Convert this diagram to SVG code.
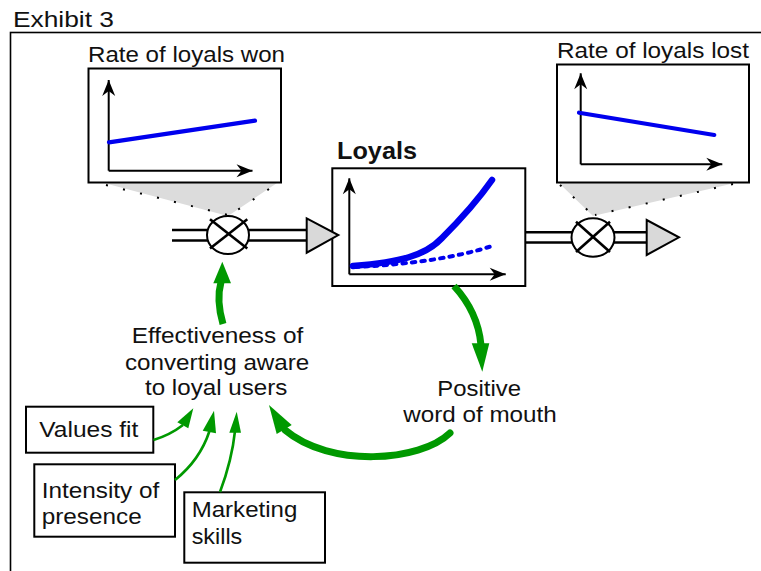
<svg xmlns="http://www.w3.org/2000/svg" width="761" height="571" viewBox="0 0 761 571">
<defs>
<marker id="ax" markerUnits="userSpaceOnUse" viewBox="-17 -7 18 14" markerWidth="18" markerHeight="14" refX="0" refY="0" orient="auto">
<path d="M0,0 L-16,-6.5 L-11,0 L-16,6.5 Z" fill="#000"/>
</marker>
</defs>
<style>
text{font-family:"Liberation Sans",Arial,sans-serif;font-size:22px;fill:#111}
.box{fill:#fff;stroke:#000;stroke-width:2}
.axis{fill:none;stroke:#000;stroke-width:2;marker-end:url(#ax)}
.pipe{stroke:#000;stroke-width:2.6;fill:none}
.valve{fill:#fff;stroke:#000;stroke-width:2}
.x{stroke:#000;stroke-width:2.6}
.tri{fill:#d9d9d9;stroke:#000;stroke-width:2}
.shade{fill:#dcdcdc;stroke:none}
.dots{fill:none;stroke:#000;stroke-width:2;stroke-dasharray:2 15.5}
.gthick{fill:none;stroke:#009900;stroke-width:7}
.gthin{fill:none;stroke:#009900;stroke-width:2.6}
.ghead{fill:#009900;stroke:none}
.blue{fill:none;stroke:#0000ee;stroke-linecap:round}
</style>
<rect x="10.5" y="32.5" width="760" height="560" fill="none" stroke="#000" stroke-width="1.6"/>
<text x="13" y="27" textLength="101" lengthAdjust="spacingAndGlyphs">Exhibit 3</text>

<g id="rate-won">
<polygon class="shade" points="104,183 277,183 228,216"/>
<line class="dots" x1="106" y1="185" x2="228" y2="215"/>
<line class="dots" x1="269" y1="189" x2="230" y2="215"/>
<rect class="box" x="88.5" y="68.5" width="192.5" height="114"/>
<text x="88" y="61.5" textLength="197" lengthAdjust="spacingAndGlyphs">Rate of loyals won</text>
<path class="axis" d="M108.7,170.7 V80"/>
<path class="axis" d="M108.7,170.7 H252.5"/>
<line class="blue" x1="109" y1="142.3" x2="255" y2="120.7" stroke-width="4.2" stroke-linecap="butt"/>
</g>

<g id="rate-lost">
<polygon class="shade" points="559,183 735,183 593,216"/>
<line class="dots" x1="560" y1="185" x2="593" y2="215"/>
<line class="dots" x1="733" y1="184" x2="595" y2="215"/>
<rect class="box" x="557" y="64.5" width="192" height="118"/>
<text x="557" y="58" textLength="192" lengthAdjust="spacingAndGlyphs">Rate of loyals lost</text>
<path class="axis" d="M580.7,164.3 V73.3"/>
<path class="axis" d="M580.7,164.3 H722.3"/>
<line class="blue" x1="579" y1="112.7" x2="714.3" y2="135" stroke-width="4.2" stroke-linecap="butt"/>
</g>

<g id="flow-in">
<line class="pipe" x1="172" y1="230" x2="210" y2="230"/>
<line class="pipe" x1="172" y1="240.5" x2="210" y2="240.5"/>
<line class="pipe" x1="246" y1="230" x2="307" y2="230"/>
<line class="pipe" x1="246" y1="240.5" x2="307" y2="240.5"/>
<ellipse class="valve" cx="228" cy="235" rx="21" ry="19"/>
<line class="x" x1="210" y1="219.3" x2="247.3" y2="248.6"/>
<line class="x" x1="210" y1="248.6" x2="247.3" y2="219.3"/>
</g>

<g id="loyals">
<rect class="box" x="332.3" y="168.3" width="193" height="117.7"/>
<text x="337" y="159" font-weight="bold" font-size="24" style="font-size:24px;font-weight:bold" textLength="80" lengthAdjust="spacingAndGlyphs">Loyals</text>
<path class="axis" d="M349.3,274.3 V178.3"/>
<path class="axis" d="M349.3,274.3 H505.7"/>
<path class="blue" d="M355,267 Q 440,263 492,246" stroke-width="4" stroke-dasharray="3.5 6" stroke-linecap="butt"/>
<path class="blue" d="M353,266 C 400,262 425,256 442,238 C 460,220 478,200 492,180" stroke-width="6.5"/>
</g>
<polygon class="tri" points="306.7,218.3 306.7,252.7 338.3,235"/>

<g id="flow-out">
<line class="pipe" x1="526" y1="232.3" x2="575" y2="232.3"/>
<line class="pipe" x1="526" y1="242.5" x2="575" y2="242.5"/>
<line class="pipe" x1="611" y1="232.3" x2="647" y2="232.3"/>
<line class="pipe" x1="611" y1="242.5" x2="647" y2="242.5"/>
<ellipse class="valve" cx="593" cy="237.5" rx="21.5" ry="19.3"/>
<line class="x" x1="576" y1="221.7" x2="610" y2="252"/>
<line class="x" x1="576" y1="252" x2="610" y2="221.7"/>
<polygon class="tri" points="646.7,220 646.7,255 679,237.3"/>
</g>

<g id="effectiveness">
<text x="131.7" y="343" textLength="171.6" lengthAdjust="spacingAndGlyphs">Effectiveness of</text>
<text x="125" y="370" textLength="184.3" lengthAdjust="spacingAndGlyphs">converting aware</text>
<text x="145" y="395" textLength="142.3" lengthAdjust="spacingAndGlyphs">to loyal users</text>
</g>

<g id="word-of-mouth">
<text x="437.3" y="396" textLength="83.7" lengthAdjust="spacingAndGlyphs">Positive</text>
<text x="403.3" y="421.5" textLength="153.4" lengthAdjust="spacingAndGlyphs">word of mouth</text>
</g>

<g id="values-fit">
<rect class="box" x="26" y="406.7" width="127.3" height="46"/>
<text x="39.3" y="437" textLength="99" lengthAdjust="spacingAndGlyphs">Values fit</text>
</g>

<g id="intensity">
<rect class="box" x="34.3" y="464.3" width="140.7" height="72.4"/>
<text x="41.7" y="498" textLength="117.6" lengthAdjust="spacingAndGlyphs">Intensity of</text>
<text x="41.7" y="524" textLength="100" lengthAdjust="spacingAndGlyphs">presence</text>
</g>

<g id="marketing">
<rect class="box" x="184.3" y="492.3" width="140.7" height="70.4"/>
<text x="191.7" y="517" textLength="105.6" lengthAdjust="spacingAndGlyphs">Marketing</text>
<text x="191.7" y="544" textLength="50.6" lengthAdjust="spacingAndGlyphs">skills</text>
</g>

<g id="connectors">
<path class="gthick" d="M223,324 Q 216,300 221,282"/>
<polygon class="ghead" points="222.3,261.7 213.3,283.3 231,283.3"/>
<path class="gthick" d="M454,286 Q 478,312 481,345"/>
<polygon class="ghead" points="482.3,371.7 471.7,343.3 489.3,343.3"/>
<path class="gthick" d="M450,433 C 420,462 330,468 285,430" stroke-linecap="round"/>
<polygon class="ghead" points="269,405 276.7,434 291.7,425"/>
<path class="gthin" d="M153.5,440 Q 170,435 183,425"/>
<polygon class="ghead" points="193.3,408.3 177.3,422.3 188.3,428.3"/>
<path class="gthin" d="M175,480 Q 200,460 209.5,431"/>
<polygon class="ghead" points="214,410.7 202.7,430.7 216,433.3"/>
<path class="gthin" d="M220,492 Q 232,460 235,431"/>
<polygon class="ghead" points="236.7,411.7 229.3,432.7 241,432.7"/>
</g>
</svg>
